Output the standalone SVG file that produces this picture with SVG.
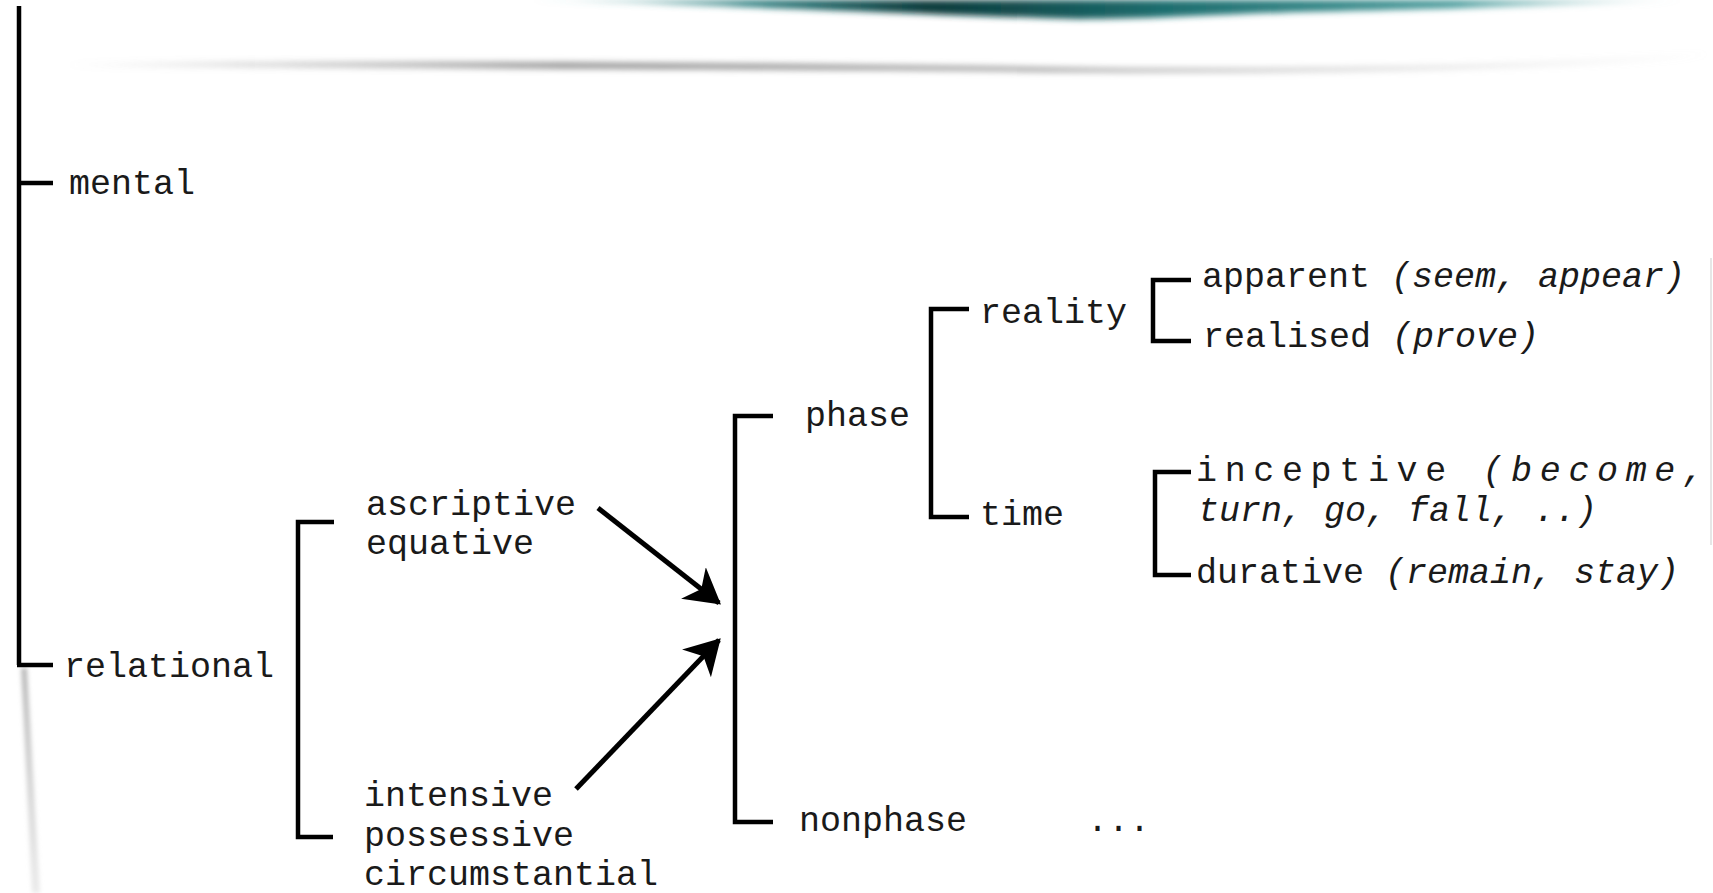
<svg xmlns="http://www.w3.org/2000/svg" width="1713" height="893" viewBox="0 0 1713 893">
<defs>
<style>
.t{font-family:"Liberation Mono","Courier New",monospace;font-size:35px;fill:#1a1a1a}
.i{font-style:italic}
.b{fill:none;stroke:#000;stroke-width:4.5}
.a{stroke:#000;stroke-width:5;fill:none}
</style>
<marker id="ah" markerWidth="8" markerHeight="8" refX="6.5" refY="4" orient="auto" markerUnits="strokeWidth">
<path d="M0,0 L7,4 L0,8 L2,4 Z" fill="#000"/>
</marker>
<filter id="blur" x="-5%" y="-200%" width="110%" height="500%"><feGaussianBlur stdDeviation="3"/></filter>
<filter id="blur2" x="-200%" y="-5%" width="500%" height="110%"><feGaussianBlur stdDeviation="2"/></filter>
<linearGradient id="teal" x1="0" x2="1" y1="0" y2="0">
<stop offset="0" stop-color="#5aa8a8" stop-opacity="0"/>
<stop offset="0.2" stop-color="#2f7f80"/>
<stop offset="0.35" stop-color="#0c3b3c"/>
<stop offset="0.55" stop-color="#1e6e6f"/>
<stop offset="0.8" stop-color="#4b9c9c"/>
<stop offset="1" stop-color="#9ccaca" stop-opacity="0"/>
</linearGradient>
<linearGradient id="gray" x1="0" x2="1" y1="0" y2="0">
<stop offset="0" stop-color="#999" stop-opacity="0"/>
<stop offset="0.3" stop-color="#8a8a8a"/>
<stop offset="0.6" stop-color="#9a9a9a"/>
<stop offset="1" stop-color="#ccc" stop-opacity="0"/>
</linearGradient>
<linearGradient id="vshadow" x1="0" x2="0" y1="0" y2="1">
<stop offset="0" stop-color="#bbb"/>
<stop offset="1" stop-color="#ddd" stop-opacity="0.6"/>
</linearGradient>
</defs>
<rect width="1713" height="893" fill="#fff"/>
<g id="decoration">
<path d="M520,0 L1690,0 C1550,6 1400,10 1300,12 C1200,15 1150,19 1080,19 C1000,17 900,13 800,9 C700,5 600,2 520,0 Z" fill="url(#teal)" filter="url(#blur)"/>
<path d="M65,64 C300,60 700,62 1100,68 C1400,70 1600,62 1710,52 L1710,56 C1600,66 1400,74 1100,72 C700,68 300,68 65,66 Z" fill="url(#gray)" filter="url(#blur)"/>
<path d="M21,668 L27,668 L40,893 L32,893 Z" fill="url(#vshadow)" filter="url(#blur2)"/>
<path d="M1710,258 L1712,258 L1712,545 L1710,545 Z" fill="#e6e6e6"/>
</g>
<g id="connectors">
<path class="b" d="M19,6 V665 M17,183 H53 M17,665 H53"/>
<path class="b" d="M334,522 H298 V837 H333"/>
<path class="b" d="M773,416 H735 V822 H773"/>
<path class="b" d="M969,309 H931 V517 H969"/>
<path class="b" d="M1191,280 H1153 V341 H1191"/>
<path class="b" d="M1191,472 H1155 V575 H1191"/>
<line class="a" x1="598" y1="508" x2="719" y2="603" marker-end="url(#ah)"/>
<line class="a" x1="576" y1="789" x2="719" y2="640" marker-end="url(#ah)"/>
</g>
<g id="n-mental"><text class="t" x="69" y="194">mental</text></g>
<g id="n-relational"><text class="t" x="64" y="677">relational</text></g>
<g id="n-ascriptive"><text class="t" x="366" y="515">ascriptive</text><text class="t" x="366" y="554">equative</text></g>
<g id="n-intensive"><text class="t" x="364" y="806">intensive</text><text class="t" x="364" y="846">possessive</text><text class="t" x="364" y="885">circumstantial</text></g>
<g id="n-phase"><text class="t" x="805" y="426">phase</text></g>
<g id="n-nonphase"><text class="t" x="799" y="831">nonphase</text></g>
<g id="n-etc"><text class="t" x="1087" y="831">...</text></g>
<g id="n-reality"><text class="t" x="980" y="323">reality</text></g>
<g id="n-time"><text class="t" x="980" y="525">time</text></g>
<g id="n-apparent"><text class="t" x="1202" y="287">apparent <tspan class="i">(seem, appear)</tspan></text></g>
<g id="n-realised"><text class="t" x="1203" y="347">realised <tspan class="i">(prove)</tspan></text></g>
<g id="n-inceptive"><text class="t" x="1196" y="481" textLength="508" lengthAdjust="spacing">inceptive <tspan class="i">(become,</tspan></text><text class="t i" x="1198" y="521">turn, go, fall, ..)</text></g>
<g id="n-durative"><text class="t" x="1196" y="583">durative <tspan class="i">(remain, stay)</tspan></text></g>
</svg>
